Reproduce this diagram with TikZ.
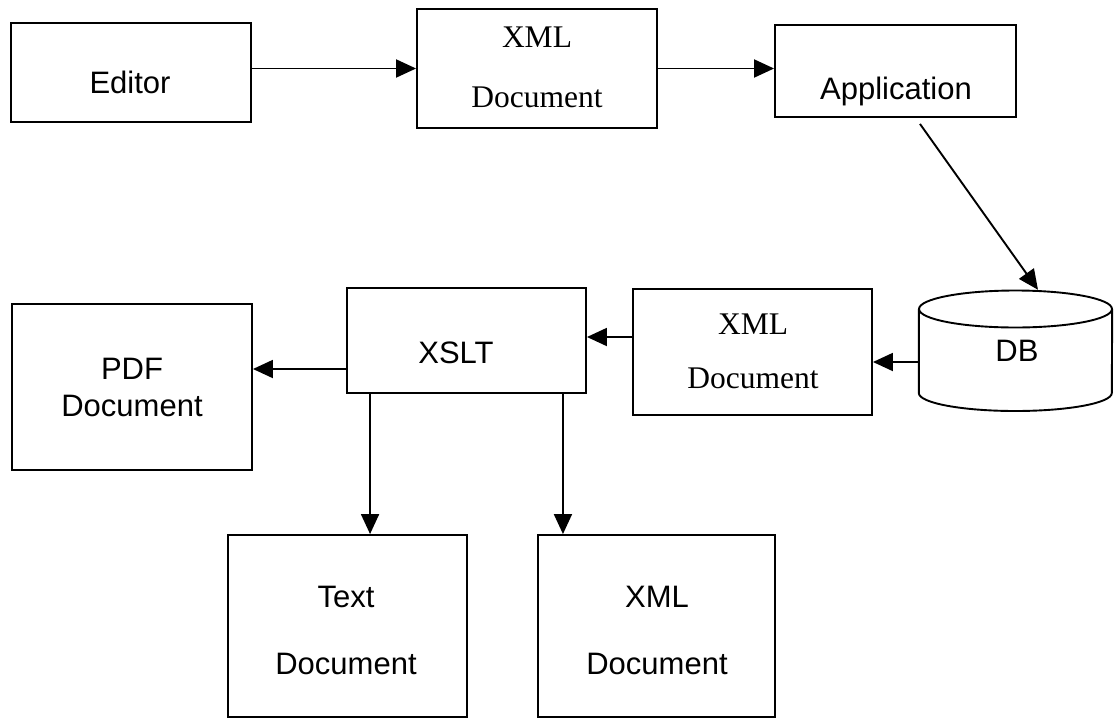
\documentclass[tikz,border=0pt]{standalone}
\usepackage{fontspec}
\newfontfamily\arialf{Liberation Sans}
\newfontfamily\timesf{Liberation Serif}
\usetikzlibrary{arrows.meta}
\begin{document}
\begin{tikzpicture}[x=1pt,y=-1pt,
  box/.style={draw,line width=1.9pt,rectangle,inner sep=0pt},
  plain/.style={inner sep=0pt},
  sans/.style={font=\arialf\fontsize{31}{37}\selectfont,anchor=base,inner sep=0pt},
  serif/.style={font=\timesf\fontsize{31.5}{37}\selectfont,anchor=base,inner sep=0pt},
  arr/.style={line width=1.9pt,-{Triangle[length=20pt,width=18pt]}}]
\useasboundingbox (0,0) rectangle (1114,718);
% boxes
\node[box,minimum width=240pt,minimum height=99pt]  (editor) at (131,72.5) {};
\node[box,minimum width=240pt,minimum height=119pt] (xmla)   at (537,68.5) {};
\node[box,minimum width=241pt,minimum height=92pt]  (app)    at (895.5,71) {};
\node[plain,minimum width=193pt,minimum height=121pt] (db)   at (1015.5,350.5) {};
\node[box,minimum width=239pt,minimum height=126pt] (xmlb)   at (752.5,352) {};
\node[box,minimum width=239pt,minimum height=105pt] (xslt)   at (466.5,340.5) {};
\node[box,minimum width=240pt,minimum height=166pt] (pdf)    at (132,387) {};
\node[box,minimum width=239pt,minimum height=182pt] (textdoc) at (347.5,626) {};
\node[box,minimum width=237pt,minimum height=182pt] (xmlc)   at (656.5,626) {};
% cylinder DB
\draw[line width=1.9pt] (db.west |- 0,309) -- (db.west |- 0,393)
  arc[start angle=180,end angle=360,x radius=96.5pt,y radius=18pt]
  -- (db.east |- 0,309);
\draw[line width=1.9pt] (1015.5,309) ellipse[x radius=96.5pt,y radius=18.5pt];
% labels
\node[sans] (lEditor) at (130,93) {Editor};
\node[serif] (lXa1) at (537,47) {XML};
\node[serif] (lXa2) at (537,107) {Document};
\node[sans] (lApp) at (896,99) {Application};
\node[sans] (lDB) at (1017,361) {DB};
\node[serif] (lXb1) at (753,334) {XML};
\node[serif] (lXb2) at (753,388) {Document};
\node[sans] (lXSLT) at (456,363) {XSLT};
\node[sans] (lPdf1) at (132,379) {PDF};
\node[sans] (lPdf2) at (132,416) {Document};
\node[sans] (lT1) at (346,607) {Text};
\node[sans] (lT2) at (346,674) {Document};
\node[sans] (lXc1) at (657,607) {XML};
\node[sans] (lXc2) at (657,674) {Document};
% connectors
\draw[arr] (editor.east |- xmla.west) -- (xmla.west);
\draw[arr] (xmla.east) -- (xmla.east -| app.west);
\coordinate (appout) at ([shift={(24.5pt,-6pt)}]app.south);
\draw[arr] (appout) -- ([xshift=22.5pt]db.north);
\draw[arr] ([yshift=-11.5pt]db.west) -- ([yshift=-11.5pt]db.west -| xmlb.east);
\draw[arr] ([yshift=15pt]xmlb.west) -- ([yshift=15pt]xmlb.west -| xslt.east);
\draw[arr] ([yshift=-28.5pt]xslt.west) -- ([yshift=-28.5pt]xslt.west -| pdf.east);
\draw[arr] ([xshift=24pt]xslt.south west) -- ([xshift=24pt]xslt.south west |- textdoc.north);
\draw[arr] ([xshift=-24pt]xslt.south east) -- ([xshift=-24pt]xslt.south east |- xmlc.north);
\end{tikzpicture}
\end{document}
